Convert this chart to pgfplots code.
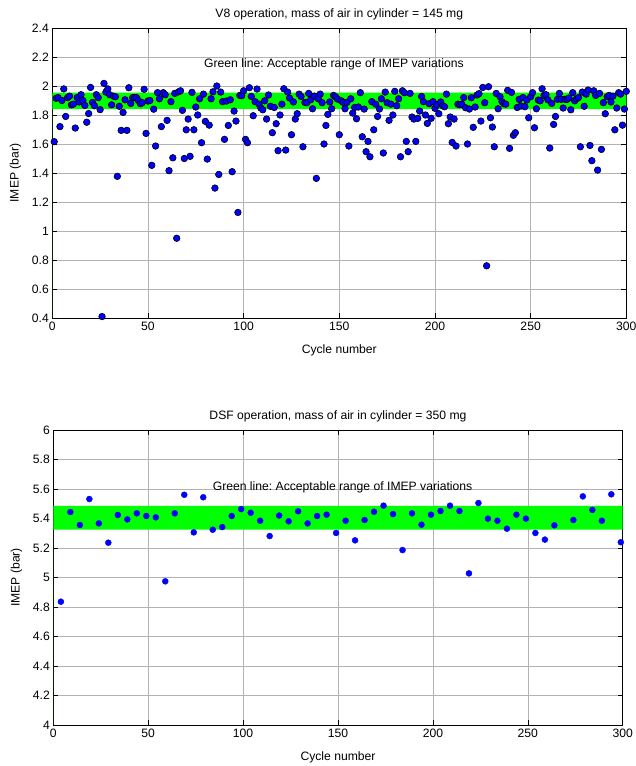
\documentclass[border=0pt]{standalone}
\usepackage{fontspec}
\setmainfont{Liberation Sans}
\usepackage{pgfplots}
\pgfplotsset{compat=1.18}
\usepackage{pgfplotstable}
\definecolor{mgreen}{RGB}{0,255,0}
\definecolor{mblue}{RGB}{0,0,255}
\frenchspacing

\pgfplotstableread{
c v
1 1.616
2 1.915
3 1.92
4 1.72
5 1.90
6 1.98
7 1.79
8 1.92
9 1.93
10 1.87
11 1.875
12 1.71
13 1.92
14 1.89
15 1.94
16 1.90
17 1.866
18 1.75
19 1.81
20 1.99
21 1.887
22 1.864
23 1.94
24 1.92
25 1.837
26 0.41
27 2.018
28 1.958
29 1.98
30 1.94
31 1.87
32 1.93
33 1.926
34 1.377
35 1.86
36 1.694
37 1.818
38 1.905
39 1.694
40 1.988
41 1.88
42 1.92
43 1.92
44 1.92
45 1.90
46 1.878
47 1.885
48 1.977
49 1.673
50 1.896
51 1.90
52 1.453
53 1.84
54 1.586
55 1.954
56 1.912
57 1.72
58 1.954
59 1.94
60 1.763
61 1.416
62 1.892
63 1.505
64 1.949
65 0.95
66 1.96
67 1.967
68 1.832
69 1.50
70 1.698
71 1.772
72 1.515
73 1.956
74 1.698
75 1.855
76 1.80
77 1.912
78 1.609
79 1.944
80 1.756
81 1.496
82 1.73
83 1.912
84 1.96
85 1.296
86 2.0
87 1.39
88 1.958
89 1.892
90 1.632
91 1.896
92 1.728
93 1.905
94 1.409
95 1.827
96 1.758
97 1.128
98 1.935
99 1.933
100 1.967
101 1.632
102 1.609
103 1.988
104 1.928
105 1.795
106 1.892
107 1.979
108 1.875
109 1.848
110 1.836
111 1.898
112 1.772
113 1.938
114 1.86
115 1.678
116 1.852
117 1.74
118 1.554
119 1.80
120 1.875
121 1.981
122 1.558
123 1.958
124 1.917
125 1.664
126 1.89
127 1.772
128 1.809
129 1.944
130 1.928
131 1.581
132 1.887
133 1.885
134 1.949
135 1.905
136 1.843
137 1.93
138 1.363
139 1.912
140 1.944
141 1.885
142 1.60
143 1.728
144 1.804
145 1.89
146 1.843
147 1.935
148 1.926
149 1.91
150 1.664
151 1.898
152 1.887
153 1.843
154 1.887
155 1.586
156 1.912
157 1.813
158 1.852
159 1.774
160 1.855
161 1.954
162 1.65
163 1.841
164 1.547
165 1.618
166 1.512
167 1.892
168 1.698
169 1.875
170 1.79
171 1.841
172 1.912
173 1.538
174 1.958
175 1.885
176 1.763
177 1.875
178 1.80
179 1.963
180 1.864
181 1.912
182 1.512
183 1.967
184 1.954
185 1.618
186 1.547
187 1.949
188 1.786
189 1.772
190 1.618
191 1.777
192 1.827
193 1.928
194 1.892
195 1.80
196 1.742
197 1.878
198 1.777
199 1.892
200 1.846
201 1.871
202 1.809
203 1.89
204 1.864
205 1.857
206 1.944
207 1.74
208 1.786
209 1.611
210 1.772
211 1.586
212 1.875
213 1.871
214 1.875
215 1.92
216 1.85
217 1.60
218 1.841
219 1.919
220 1.715
221 1.855
222 1.938
223 1.947
224 1.758
225 1.99
226 1.885
227 0.76
228 1.995
229 1.781
230 1.717
231 1.581
232 1.949
233 1.843
234 1.926
235 1.892
236 1.878
237 1.875
238 1.97
239 1.57
240 1.956
241 1.66
242 1.678
243 1.852
244 1.908
245 1.862
246 1.92
247 1.857
248 1.903
249 1.781
250 1.926
251 1.954
252 1.712
253 1.843
254 1.903
255 1.898
256 1.981
257 1.935
258 1.94
259 1.905
260 1.572
261 1.88
262 1.735
263 1.79
264 1.908
265 1.949
266 1.908
267 1.848
268 1.908
269 1.908
270 1.917
271 1.836
272 1.954
273 1.898
274 1.912
275 1.92
276 1.581
277 1.958
278 1.86
279 1.944
280 1.972
281 1.59
282 1.485
283 1.967
284 1.935
285 1.42
286 1.949
287 1.563
288 1.885
289 1.809
290 1.926
291 1.935
292 1.89
293 1.93
294 1.698
295 1.848
296 1.954
297 1.944
298 1.73
299 1.841
300 1.963
}\vdata

\pgfplotstableread{
c v
4 4.836
9 5.444
14 5.356
19 5.532
24 5.367
29 5.236
34 5.424
39 5.394
44 5.435
49 5.417
54 5.408
59 4.974
64 5.435
69 5.561
74 5.306
79 5.544
84 5.324
89 5.342
94 5.417
99 5.464
104 5.439
109 5.385
114 5.281
119 5.42
124 5.381
129 5.449
134 5.367
139 5.417
144 5.426
149 5.302
154 5.385
159 5.252
164 5.39
169 5.446
174 5.487
179 5.43
184 5.186
189 5.435
194 5.358
199 5.426
204 5.451
209 5.487
214 5.451
219 5.028
224 5.505
229 5.399
234 5.385
239 5.331
244 5.426
249 5.399
254 5.302
259 5.257
264 5.354
274 5.39
279 5.55
284 5.458
289 5.385
294 5.564
299 5.239
}\dsfdata

\pgfplotsset{
  mstyle/.style={
    scale only axis,
    xmin=0, xmax=300,
    xtick={0,50,100,150,200,250,300},
    grid=major,
    major grid style={gray!60, line width=0.6pt},
    tick align=inside,
    major tick length=5bp,
    axis line style={black, line width=0.9pt},
    every tick/.style={black, line width=0.6pt},
    tick label style={font=\fontsize{12.2}{14}\selectfont},
    label style={font=\fontsize{12.2}{14}\selectfont},
    title style={font=\fontsize{12.2}{14}\selectfont, yshift=-2bp},
    xlabel style={yshift=-8bp},
    ylabel style={yshift=4bp},
    /pgf/number format/assume math mode=true,
    xlabel={Cycle number},
    ylabel={IMEP (bar)},
    clip=false,
  }
}

\begin{document}
\begin{tikzpicture}
\path[use as bounding box] (0,0) rectangle (636bp,-766bp);

\begin{axis}[mstyle,
  at={(52.3bp,-28bp)}, anchor=north west,
  width=574bp, height=290bp,
  ymin=0.4, ymax=2.4,
  ytick={0.4,0.6,0.8,1,1.2,1.4,1.6,1.8,2,2.2,2.4},
  title={V8 operation, mass of air in cylinder = 145 mg},
]
\addplot[fill=mgreen, draw=none] coordinates {(0,1.84) (300,1.84) (300,1.955) (0,1.955)} \closedcycle;
\addplot[only marks, mark=*, mark size=3.3bp, mark options={fill=mblue, draw=black, line width=0.6pt}] table[x=c, y=v] {\vdata};
\node[font=\fontsize{12.2}{14}\selectfont] at (axis cs:147.2,2.152) {Green line: Acceptable range of IMEP variations};
\end{axis}

\begin{axis}[mstyle,
  at={(53.3bp,-430bp)}, anchor=north west,
  width=569.4bp, height=295bp,
  ymin=4, ymax=6,
  ytick={4,4.2,4.4,4.6,4.8,5,5.2,5.4,5.6,5.8,6},
  title={DSF operation, mass of air in cylinder = 350 mg},
]
\addplot[fill=mgreen, draw=none] coordinates {(0,5.325) (300,5.325) (300,5.485) (0,5.485)} \closedcycle;
\addplot[only marks, mark=*, mark size=3bp, mark options={fill=mblue, draw=mblue}] table[x=c, y=v] {\dsfdata};
\node[font=\fontsize{12.2}{14}\selectfont] at (axis cs:152.4,5.614) {Green line: Acceptable range of IMEP variations};
\end{axis}
\end{tikzpicture}
\end{document}
